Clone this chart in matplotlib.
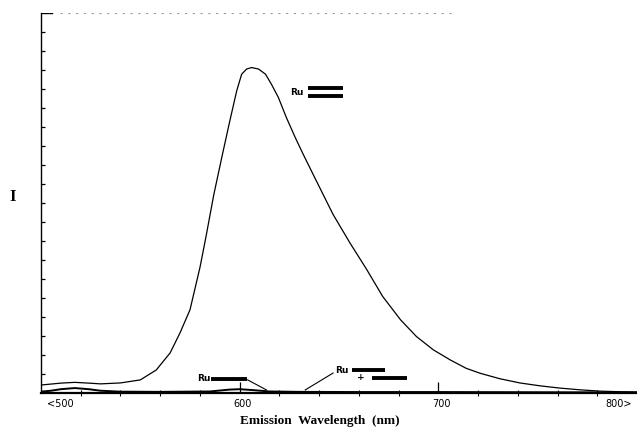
import numpy as np
import matplotlib
matplotlib.use('Agg')
import matplotlib.pyplot as plt

# espectro de emision del dimero (curva grande)
wl_dim = [500, 505, 510, 517, 524, 530, 540, 550, 558, 565, 570, 575, 580, 583,
          587, 591, 595, 598.5, 601, 603.5, 606, 609.5, 613, 616, 619.5, 623.5,
          628, 632, 637, 642, 647, 655.5, 664, 672, 681, 689, 697.5, 706, 714,
          721, 731, 741, 751, 761, 771, 781, 790, 800]
int_dim = [0.42, 0.47, 0.52, 0.56, 0.52, 0.48, 0.53, 0.69, 1.21, 2.11, 3.17, 4.38,
           6.6, 8.2, 10.45, 12.4, 14.3, 15.9, 16.78, 17.05, 17.13, 17.05, 16.78,
           16.25, 15.55, 14.5, 13.44, 12.56, 11.5, 10.45, 9.4, 7.9, 6.49, 5.08,
           3.85, 2.97, 2.27, 1.74, 1.30, 1.04, 0.75, 0.53, 0.38, 0.26, 0.17, 0.1,
           0.07, 0.05]

# monomero y mezcla (casi en la linea base)
wl_mono = [500, 505, 510, 517, 524, 530, 540, 560, 585, 595, 600, 607, 615, 630,
           660, 700, 750, 800]
int_mono = [0.07, 0.12, 0.2, 0.26, 0.2, 0.12, 0.07, 0.06, 0.08, 0.18, 0.2, 0.15,
            0.08, 0.06, 0.05, 0.05, 0.04, 0.03]

xlabels_pos = [509.6, 601.7, 701.7, 791]
xlabels_txt = ['<500', '600', '700', '800>']

fig = plt.figure(figsize=(6.37, 4.37), dpi=100)
ax = fig.add_axes([41/637, 44/437, 596/637, 380/437])

ax.plot(wl_dim, int_dim, color='black', lw=0.9)
ax.plot(wl_mono, int_mono, color='black', lw=1.4)

ax.set_xlim(500, 800)
ax.set_ylim(0, 20)

for s in ['top', 'right']:
    ax.spines[s].set_visible(False)
ax.spines['left'].set_linewidth(1.0)
ax.spines['bottom'].set_linewidth(1.6)

ax.set_yticks(np.arange(1, 20))
ax.set_yticklabels([])
ax.tick_params(axis='y', direction='in', length=3, width=0.9)
ax.set_xticks([600, 700])
ax.set_xticklabels([])
ax.tick_params(axis='x', which='major', direction='in', length=8, width=0.9)
ax.set_xticks(np.arange(520, 800, 20), minor=True)
ax.tick_params(axis='x', which='minor', direction='inout', length=4, width=0.8)

# marca superior y linea punteada tenue
ax.axhline(20, xmin=0, xmax=0.019, color='black', lw=1.0)
ax.axhline(20, xmin=0.032, xmax=0.695, color='#999999', lw=0.8, ls=(0, (2, 5)))

tr = ax.get_xaxis_transform()
for p, t in zip(xlabels_pos, xlabels_txt):
    ax.text(p, -0.028, t, transform=tr, ha='center', va='center', fontsize=7)

# etiquetas de los compuestos
ax.text(629, 15.8, 'Ru', fontsize=6.5, fontweight='bold', ha='center', va='center')
ax.plot([634.4, 652], [16.07, 16.07], color='black', lw=2.8, solid_capstyle='butt')
ax.plot([634.4, 652], [15.64, 15.64], color='black', lw=2.8, solid_capstyle='butt')

ax.text(582, 0.74, 'Ru', fontsize=6.5, fontweight='bold', ha='center', va='center')
ax.plot([585.5, 603.7], [0.74, 0.74], color='black', lw=2.8, solid_capstyle='butt')
ax.plot([604, 613.5], [0.69, 0.16], color='black', lw=0.8)

ax.text(651.5, 1.21, 'Ru', fontsize=6.5, fontweight='bold', ha='center', va='center')
ax.plot([656.5, 673], [1.21, 1.21], color='black', lw=2.8, solid_capstyle='butt')
ax.text(661, 0.79, '+', fontsize=6.5, fontweight='bold', ha='center', va='center')
ax.plot([666.5, 684], [0.79, 0.79], color='black', lw=2.8, solid_capstyle='butt')
ax.plot([647, 633], [1.05, 0.16], color='black', lw=0.8)

fig.text(320/637, 1 - 421/437, 'Emission  Wavelength  (nm)', ha='center', va='center',
         fontsize=9.5, fontweight='bold', family='Liberation Serif')
fig.text(13/637, 1 - 197/437, 'I', ha='center', va='center',
         fontsize=12, fontweight='bold', family='Liberation Serif')

fig.savefig('out.png', dpi=100, facecolor='white')
